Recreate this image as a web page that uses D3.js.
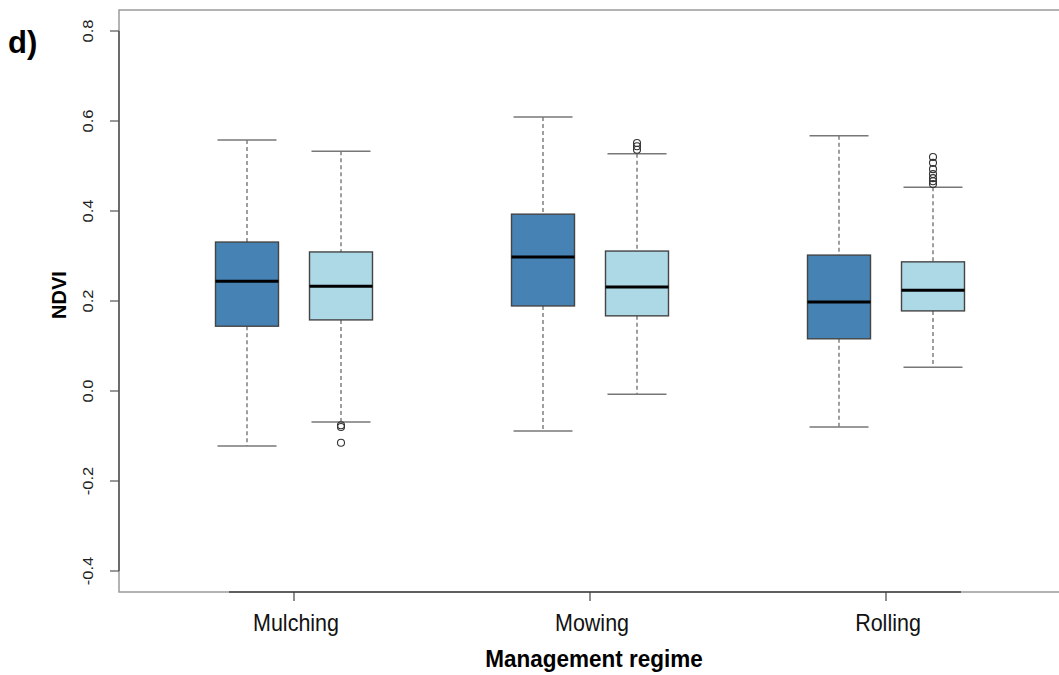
<!DOCTYPE html>
<html>
<head>
<meta charset="utf-8">
<script src="https://cdn.jsdelivr.net/npm/d3@7"></script>
<style>
  body { margin: 0; background: #fff; }
  text { font-family: "Liberation Sans", Arial, sans-serif; }
</style>
</head>
<body>
<svg width="1059" height="675"></svg>
<script>
// categories and the two series per category
var regimes = ["Mulching", "Mowing", "Rolling"];
var series = ["dark", "light"];

// five-number summaries: [lowWhisker, q1, median, q3, highWhisker]
var darkStats = [
  [-0.122, 0.144, 0.244, 0.331, 0.558],
  [-0.089, 0.189, 0.298, 0.393, 0.609],
  [-0.080, 0.116, 0.198, 0.302, 0.567]
];
var lightStats = [
  [-0.069, 0.158, 0.233, 0.309, 0.533],
  [-0.007, 0.167, 0.231, 0.311, 0.527],
  [0.053, 0.178, 0.224, 0.287, 0.453]
];
var lightOutliers = [
  [-0.076, -0.080, -0.115],
  [0.536, 0.544, 0.551],
  [0.460, 0.466, 0.473, 0.482, 0.493, 0.507, 0.520]
];
var yTicks = [-0.4, -0.2, 0.0, 0.2, 0.4, 0.6, 0.8];

var svg = d3.select("svg");

var x = d3.scalePoint().domain(regimes).range([294, 886]);
var y = d3.scaleLinear().domain([0, 0.8]).range([391, 31]);
var offset = d3.scaleOrdinal().domain(series).range([-47, 47]);
var fill = d3.scaleOrdinal().domain(series).range(["#4682B4", "#ADD8E6"]);
var boxW = 63, capW = 59;

// plain hyphen for negatives, as R prints them
var fmt = d => d3.format(".1f")(d).replace("\u2212", "-");

// plot frame
svg.append("rect")
  .attr("x", 119).attr("y", 10)
  .attr("width", 1000).attr("height", y(-0.4) + 21 - 10)
  .attr("fill", "none").attr("stroke", "#9a9a9a").attr("stroke-width", 1.5);

// y axis
var yAxis = svg.append("g");
yAxis.append("line")
  .attr("x1", 119).attr("x2", 119)
  .attr("y1", y(-0.4)).attr("y2", y(0.8))
  .attr("stroke", "#555").attr("stroke-width", 1.5);
yAxis.selectAll("line.tick").data(yTicks).enter().append("line")
  .attr("class", "tick")
  .attr("x1", 110).attr("x2", 119)
  .attr("y1", d => y(d)).attr("y2", d => y(d))
  .attr("stroke", "#555").attr("stroke-width", 1.2);
yAxis.selectAll("text").data(yTicks).enter().append("text")
  .attr("transform", d => "translate(93," + y(d) + ") rotate(-90) scale(1.1,1)")
  .attr("text-anchor", "middle")
  .attr("font-size", 15)
  .attr("fill", "#222")
  .text(fmt);

// x axis
var bottom = y(-0.4) + 21;
var xAxis = svg.append("g");
xAxis.append("line")
  .attr("x1", x(regimes[0]) - 65).attr("x2", x(regimes[2]) + 75)
  .attr("y1", bottom).attr("y2", bottom)
  .attr("stroke", "#444").attr("stroke-width", 1.5);
xAxis.selectAll("line.tick").data(regimes).enter().append("line")
  .attr("class", "tick")
  .attr("x1", d => x(d)).attr("x2", d => x(d))
  .attr("y1", bottom).attr("y2", bottom + 9)
  .attr("stroke", "#444").attr("stroke-width", 1.2);
xAxis.selectAll("text").data(regimes).enter().append("text")
  .attr("transform", d => "translate(" + (x(d) + 2) + ",631) scale(1,1.12)")
  .attr("text-anchor", "middle")
  .attr("font-size", 21.5)
  .attr("fill", "#111")
  .text(d => d);

// axis titles
svg.append("text")
  .attr("transform", "translate(594,667) scale(1,1.1)")
  .attr("text-anchor", "middle")
  .attr("font-size", 22.5).attr("font-weight", "bold")
  .text("Management regime");
svg.append("text")
  .attr("transform", "translate(66,295) rotate(-90)")
  .attr("text-anchor", "middle")
  .attr("font-size", 20).attr("font-weight", "bold")
  .text("NDVI");
svg.append("text")
  .attr("x", 8).attr("y", 53)
  .attr("font-size", 31).attr("font-weight", "bold")
  .text("d)");

// boxes
var boxes = [];
regimes.forEach(function (r, i) {
  boxes.push({ regime: r, s: "dark", stats: darkStats[i], out: [] });
  boxes.push({ regime: r, s: "light", stats: lightStats[i], out: lightOutliers[i] });
});

var g = svg.selectAll("g.box").data(boxes).enter().append("g")
  .attr("class", "box")
  .attr("transform", d => "translate(" + (x(d.regime) + offset(d.s)) + ",0)");

// dashed whiskers
g.append("line")
  .attr("x1", 0).attr("x2", 0)
  .attr("y1", d => y(d.stats[4])).attr("y2", d => y(d.stats[3]))
  .attr("stroke", "#888").attr("stroke-width", 1.6).attr("stroke-dasharray", "4,3");
g.append("line")
  .attr("x1", 0).attr("x2", 0)
  .attr("y1", d => y(d.stats[1])).attr("y2", d => y(d.stats[0]))
  .attr("stroke", "#888").attr("stroke-width", 1.6).attr("stroke-dasharray", "4,3");

// caps
g.selectAll("line.cap").data(d => [d.stats[0], d.stats[4]]).enter().append("line")
  .attr("class", "cap")
  .attr("x1", -capW / 2).attr("x2", capW / 2)
  .attr("y1", v => y(v)).attr("y2", v => y(v))
  .attr("stroke", "#777").attr("stroke-width", 1.5);

// box
g.append("rect")
  .attr("x", -boxW / 2).attr("width", boxW)
  .attr("y", d => y(d.stats[3]))
  .attr("height", d => y(d.stats[1]) - y(d.stats[3]))
  .attr("fill", d => fill(d.s))
  .attr("stroke", "#444").attr("stroke-width", 1.4);

// median
g.append("line")
  .attr("x1", -boxW / 2).attr("x2", boxW / 2)
  .attr("y1", d => y(d.stats[2])).attr("y2", d => y(d.stats[2]))
  .attr("stroke", "#000").attr("stroke-width", 3);

// outliers
g.selectAll("circle").data(d => d.out).enter().append("circle")
  .attr("cx", 0).attr("cy", v => y(v)).attr("r", 3.5)
  .attr("fill", "none").attr("stroke", "#333").attr("stroke-width", 1.1);
</script>
</body>
</html>
